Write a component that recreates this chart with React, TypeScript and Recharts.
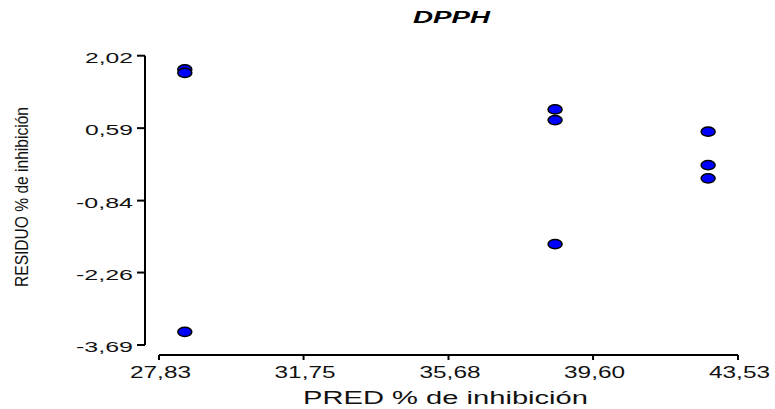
import React from 'react';
import { ScatterChart, Scatter, XAxis, YAxis } from 'recharts';

// predicted values (x) and residuals (y)
const predValues = [28.53, 28.53, 28.53, 38.57, 38.57, 38.57, 42.72, 42.72, 42.72];
const residValues = [1.75, 1.68, -3.43, 0.96, 0.75, -1.7, 0.52, -0.14, -0.4];

const xTicks = [27.83, 31.75, 35.68, 39.6, 43.53];
const yTicks = [2.02, 0.59, -0.84, -2.26, -3.69];

const title = 'DPPH';
const xLabel = 'PRED % de inhibición';
const yLabel = 'RESIDUO % de inhibición';

const FONT = '"Liberation Sans", Arial, sans-serif';

const data = predValues.map((x, i) => ({ x, y: residValues[i] }));

const fmt = (v: number) => v.toFixed(2).replace('.', ',');

const XTick = (props: any) => {
  const { x, y, payload } = props;
  return (
    <text x={x + 1.5} y={y} dy={16} textAnchor="middle" fontFamily={FONT} fontSize={16} fill="#111"
      textLength={61} lengthAdjust="spacingAndGlyphs">
      {fmt(payload.value)}
    </text>
  );
};

const YTick = (props: any) => {
  const { x, y, payload } = props;
  const label = fmt(payload.value);
  return (
    <text x={x} y={y} dy={7} textAnchor="end" fontFamily={FONT} fontSize={15} fill="#111"
      textLength={label.startsWith('-') ? 57 : 48} lengthAdjust="spacingAndGlyphs">
      {label}
    </text>
  );
};

const Dot = (props: any) => (
  <ellipse cx={props.cx} cy={props.cy} rx={7} ry={4.6} fill="#0000FF" stroke="#000" strokeWidth={1.5} />
);

export default function App() {
  return (
    <div style={{ position: 'absolute', left: 0, top: 0, background: '#fff' }}>
      <ScatterChart width={775} height={409} margin={{ top: 55.7, right: 37, bottom: 0, left: 0 }}>
        <XAxis
          type="number"
          dataKey="x"
          domain={[27.83, 43.53]}
          ticks={xTicks}
          padding={{ left: 14, right: 0 }}
          axisLine={{ stroke: '#000', strokeWidth: 2, strokeDasharray: '0 14 1000' }}
          tickLine={{ stroke: '#000', strokeWidth: 2 }}
          tickSize={5}
          tickMargin={2}
          tick={<XTick />}
          height={54}
        />
        <YAxis
          type="number"
          dataKey="y"
          domain={[-3.69, 2.02]}
          ticks={yTicks}
          padding={{ top: 0, bottom: 10 }}
          axisLine={{ stroke: '#000', strokeWidth: 2, strokeDasharray: '289.3 1000' }}
          tickLine={{ stroke: '#000', strokeWidth: 2 }}
          tickSize={8}
          tickMargin={4}
          tick={<YTick />}
          width={145}
        />
        <Scatter data={data} shape={<Dot />} isAnimationActive={false} />
        <text x={451.5} y={23} textAnchor="middle" fontFamily={FONT} fontSize={16} fontWeight="bold"
          fontStyle="italic" fill="#000" textLength={77} lengthAdjust="spacingAndGlyphs">
          {title}
        </text>
        <text x={445.5} y={404} textAnchor="middle" fontFamily={FONT} fontSize={18} fill="#111"
          textLength={285} lengthAdjust="spacingAndGlyphs">
          {xLabel}
        </text>
        <text x={28} y={197} textAnchor="middle" fontFamily={FONT} fontSize={18} fill="#111"
          transform="rotate(-90, 28, 197)" textLength={180} lengthAdjust="spacingAndGlyphs">
          {yLabel}
        </text>
      </ScatterChart>
    </div>
  );
}
